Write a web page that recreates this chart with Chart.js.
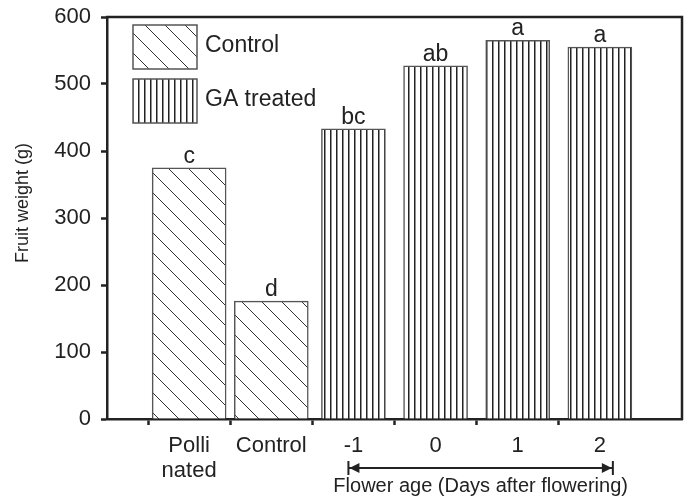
<!DOCTYPE html>
<html lang="en">
<head>
<meta charset="UTF-8">
<title>Fruit weight</title>
<script src="https://cdn.jsdelivr.net/npm/chart.js"></script>
<style>
  body { margin: 0; padding: 0; background: #fff; }
  #wrap { width: 687px; height: 499px; }
</style>
</head>
<body>
<div id="wrap"><canvas id="myChart" width="687" height="499"></canvas></div>
<script>
// data
const categories = ['', ['Polli', 'nated'], 'Control', '-1', '0', '1', '2', ''];
const controlValues = [null, 375, 176, null, null, null, null, null];
const gaValues = [null, null, null, 433, 527, 565, 555, null];
const letters = ['', 'c', 'd', 'bc', 'ab', 'a', 'a', ''];
const seriesNames = ['Control', 'GA treated'];

const FONT = "'Liberation Sans', Arial, sans-serif";
const INK = '#222';

function diagPattern() {
    const c = document.createElement('canvas');
    c.width = 20; c.height = 20;
    const g = c.getContext('2d');
    g.fillStyle = '#fff';
    g.fillRect(0, 0, 20, 20);
    g.strokeStyle = '#333';
    g.lineWidth = 1;
    g.beginPath();
    g.moveTo(-2, -2); g.lineTo(22, 22);
    g.moveTo(-12, 8); g.lineTo(2, 22);
    g.moveTo(18, -2); g.lineTo(22, 2);
    g.stroke();
    return g.createPattern(c, 'repeat');
}

function vertPattern() {
    const c = document.createElement('canvas');
    c.width = 6; c.height = 6;
    const g = c.getContext('2d');
    g.fillStyle = '#fff';
    g.fillRect(0, 0, 6, 6);
    g.fillStyle = '#222';
    g.fillRect(0, 0, 1.5, 6);
    return g.createPattern(c, 'repeat');
}

const extras = {
    id: 'extras',
    afterDraw(chart) {
        const ctx = chart.ctx;
        const a = chart.chartArea;
        ctx.save();
        // top and right frame
        ctx.strokeStyle = INK;
        ctx.lineWidth = 2.5;
        ctx.beginPath();
        ctx.moveTo(a.left - 1, a.top);
        ctx.lineTo(a.right, a.top);
        ctx.lineTo(a.right, a.bottom + 1);
        ctx.stroke();

        ctx.fillStyle = INK;
        // y axis title
        ctx.save();
        ctx.translate(28, 203);
        ctx.rotate(-Math.PI / 2);
        ctx.font = '18px ' + FONT;
        ctx.textAlign = 'center';
        ctx.textBaseline = 'alphabetic';
        ctx.fillText('Fruit weight (g)', 0, 0);
        ctx.restore();

        // significance letters
        ctx.fillStyle = INK;
        ctx.font = '23px ' + FONT;
        ctx.textAlign = 'center';
        ctx.textBaseline = 'alphabetic';
        chart.data.datasets.forEach((ds, i) => {
            chart.getDatasetMeta(i).data.forEach((bar, j) => {
                if (ds.data[j] == null) return;
                ctx.fillText(letters[j], bar.x, bar.y - 5);
            });
        });

        // legend
        chart.data.datasets.forEach((ds, i) => {
            const x = 133, y = 25 + 54 * i;
            ctx.fillStyle = ds.backgroundColor;
            ctx.fillRect(x, y, 64, 44);
            ctx.strokeStyle = '#555';
            ctx.lineWidth = 1.5;
            ctx.strokeRect(x, y, 64, 44);
            ctx.fillStyle = INK;
            ctx.textAlign = 'left';
            ctx.textBaseline = 'middle';
            ctx.font = '23px ' + FONT;
            ctx.fillText(ds.label, 205, y + 21);
        });

        // flower age arrow and title
        const xs = chart.scales.x;
        const x1 = xs.getPixelForValue(3) - 5;
        const x2 = xs.getPixelForValue(6) + 13;
        const ya = 468;
        ctx.strokeStyle = INK;
        ctx.fillStyle = INK;
        ctx.lineWidth = 2;
        ctx.beginPath();
        ctx.moveTo(x1, ya); ctx.lineTo(x2, ya);
        ctx.moveTo(x1, ya - 7); ctx.lineTo(x1, ya + 7);
        ctx.moveTo(x2, ya - 7); ctx.lineTo(x2, ya + 7);
        ctx.stroke();
        ctx.beginPath();
        ctx.moveTo(x1 + 1, ya); ctx.lineTo(x1 + 11, ya - 5); ctx.lineTo(x1 + 11, ya + 5); ctx.closePath();
        ctx.moveTo(x2 - 1, ya); ctx.lineTo(x2 - 11, ya - 5); ctx.lineTo(x2 - 11, ya + 5); ctx.closePath();
        ctx.fill();
        ctx.font = '20px ' + FONT;
        ctx.textAlign = 'center';
        ctx.textBaseline = 'alphabetic';
        ctx.fillText('Flower age (Days after flowering)', (x1 + x2) / 2, 492);
        ctx.restore();
    }
};

const ctx = document.getElementById('myChart').getContext('2d');
new Chart(ctx, {
    type: 'bar',
    data: {
        labels: categories,
        datasets: [{
            label: seriesNames[0],
            data: controlValues,
            backgroundColor: diagPattern(),
            borderColor: '#555',
            borderWidth: 1.5,
            barThickness: 74,
            skipNull: true
        }, {
            label: seriesNames[1],
            data: gaValues,
            backgroundColor: vertPattern(),
            borderColor: '#555',
            borderWidth: 1.5,
            barThickness: 64,
            skipNull: true
        }]
    },
    options: {
        responsive: false,
        animation: false,
        devicePixelRatio: 1,
        layout: { padding: { top: 17, right: 5, left: 0, bottom: 0 } },
        plugins: {
            legend: { display: false },
            tooltip: { enabled: false }
        },
        scales: {
            x: {
                offset: false,
                grid: {
                    drawOnChartArea: false,
                    drawTicks: true,
                    tickLength: 6,
                    tickWidth: 2.5,
                    tickColor: c => (c.index === 0 || c.index === 7) ? 'rgba(0,0,0,0)' : INK
                },
                border: { display: true, color: INK, width: 2.5 },
                ticks: {
                    color: INK,
                    font: { family: FONT, size: 22, lineHeight: 1.15 },
                    padding: 8,
                    maxRotation: 0,
                    autoSkip: false
                },
                afterFit: s => { s.height = 80; s.paddingRight = 0; s.paddingLeft = 0; }
            },
            y: {
                min: 0,
                max: 600,
                grid: {
                    drawOnChartArea: false,
                    drawTicks: true,
                    tickLength: 6,
                    tickWidth: 2.5,
                    tickColor: INK
                },
                border: { display: true, color: INK, width: 2.5 },
                ticks: {
                    stepSize: 100,
                    color: INK,
                    font: { family: FONT, size: 22 },
                    padding: 10
                },
                afterFit: s => { s.width = 107; s.paddingTop = 0; s.paddingBottom = 0; }
            }
        }
    },
    plugins: [extras]
});
</script>
</body>
</html>
